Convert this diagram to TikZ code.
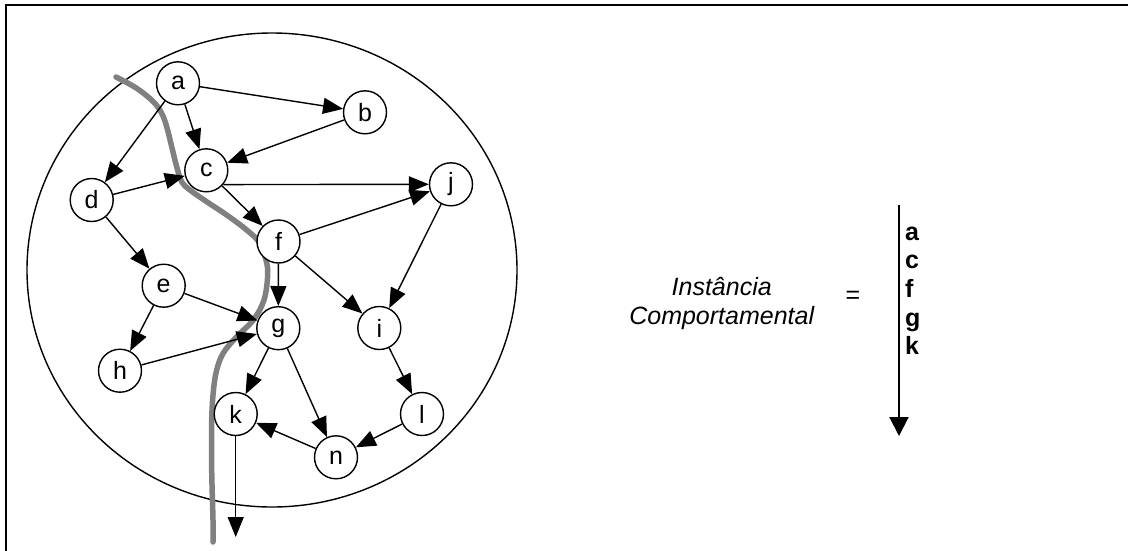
\documentclass[tikz,border=0pt]{standalone}
\usepackage{fontspec}
\setmainfont{Liberation Sans}
\usetikzlibrary{arrows.meta}
\begin{document}
\begin{tikzpicture}[x=1pt,y=-1pt,
  vtx/.style={circle,draw,fill=white,line width=1.4pt,minimum size=43pt,inner sep=0pt,font=\fontsize{25}{28}\selectfont},
  arr/.style={line width=1.4pt,-{Triangle[length=20pt,width=16pt]}},
  bigarr/.style={line width=2pt,-{Triangle[length=19pt,width=19pt]}},
  path/.style={line width=5.5pt,draw=black!50,line cap=round},
  lbl/.style={font=\fontsize{25}{28}\selectfont\itshape,anchor=base,inner sep=0pt},
  seq/.style={font=\fontsize{25}{28}\selectfont\bfseries,anchor=base west,inner sep=0pt}]
\useasboundingbox (0,0) rectangle (1128,550);
\fill[white] (0,0) rectangle (1128,550);
\draw[line width=2pt] (6,560) -- (6,5) -- (1140,5);
\draw[line width=1.4pt] (272,270) ellipse [x radius=245pt, y radius=237pt];
% behavioural path
\draw[path] plot[smooth,tension=0.6] coordinates {(116,77) (136.7,88.3) (153.3,101.7) (161.7,113.3) (166.7,126.7) (171.7,146.7) (176.7,166.7) (181.7,181.7) (190,190) (206.7,201.7) (226.7,215) (246.7,230) (260,243.3) (266,260) (267.7,275) (264,300) (253.3,320) (236.7,336.7) (223.3,353) (216.7,370) (213.5,390) (211.7,420) (211.7,470) (213,520) (213,542)};
% vertices
\node[vtx] (a) at (178,83.3) {a};
\node[vtx] (b) at (365,112.3) {b};
\node[vtx] (c) at (206.3,170.3) {c};
\node[vtx] (d) at (91.7,200) {d};
\node[vtx] (e) at (163.7,285.7) {e};
\node[vtx] (f) at (278.5,241.5) {f};
\node[vtx] (g) at (278.3,328.2) {g};
\node[vtx] (h) at (120,370.7) {h};
\node[vtx] (i) at (379.3,328) {i};
\node[vtx] (j) at (451,184.3) {j};
\node[vtx] (k) at (235.7,414) {k};
\node[vtx] (l) at (422,414) {l};
\node[vtx] (n) at (336,457.3) {n};
\coordinate (kend) at (235.7,537);
% edges
\draw[arr] (a) -- (b);
\draw[arr] (a) -- (c);
\draw[arr] (a) -- (d);
\draw[arr] (b) -- (c);
\draw[arr] (d) -- (c);
\draw[arr] (c.-40) -- (j.west);
\draw[arr] (c) -- (f);
\draw[arr] (d) -- (e);
\draw[arr] (f) -- (j);
\draw[arr] (f) -- (g);
\draw[arr] (f) -- (i);
\draw[arr] (j) -- (i);
\draw[arr] (e) -- (g);
\draw[arr] (e) -- (h);
\draw[arr] (h) -- (g);
\draw[arr] (g) -- (k);
\draw[arr] (g) -- (n);
\draw[arr] (i) -- (l);
\draw[arr] (l) -- (n);
\draw[arr] (n) -- (k);
\draw[arr] (k) -- (kend);
% right side
\node[lbl] (t1) at (721.7,295) {Instância};
\node[lbl] (t2) at (721.7,324) {Comportamental};
\node[font=\fontsize{25}{28}\selectfont,inner sep=0pt] (eq) at (853,297) {=};
\coordinate (vtop) at (899,205);
\coordinate (vbot) at (899,436);
\draw[bigarr] (vtop) -- (vbot);
\node[seq] (s1) at (905,240) {a};
\node[seq] (s2) at (905,268.7) {c};
\node[seq] (s3) at (905,297.4) {f};
\node[seq] (s4) at (905,326.1) {g};
\node[seq] (s5) at (905,354.8) {k};
\end{tikzpicture}
\end{document}
